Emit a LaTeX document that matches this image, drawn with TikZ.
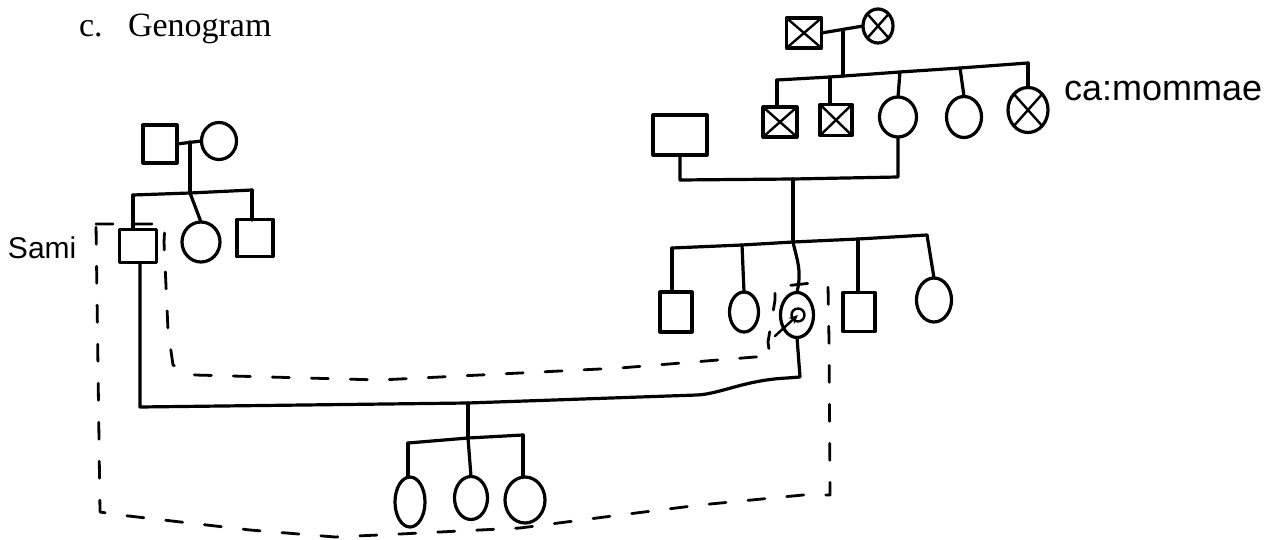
\documentclass[tikz,border=0pt]{standalone}
\usepackage{fontspec}
\setmainfont{Liberation Serif}
\newfontfamily\hand{Liberation Sans}
\usetikzlibrary{shapes.geometric,arrows.meta,calc}
\begin{document}
\begin{tikzpicture}[x=1pt,y=-1pt,line width=3.2pt,line join=round,line cap=round,
  every node/.style={inner sep=0pt,outer sep=0pt},
  male/.style={draw,rectangle},
  female/.style={draw,ellipse},
  dead/.style={path picture={\draw[line width=2.4pt]
     (path picture bounding box.south west) -- (path picture bounding box.north east)
     (path picture bounding box.north west) -- (path picture bounding box.south east);}},
  household/.style={line width=2.8pt,dash pattern=on 17pt off 22pt}]
\fill[white] (0,0) rectangle (1279,540);
\useasboundingbox (0,0) rectangle (1279,540);

% title
\node[anchor=base west,font=\fontsize{34}{36}\selectfont] (tc) at (79,37) {c.};
\node[anchor=base west,font=\fontsize{34}{36}\selectfont] (tg) at (128,37) {Genogram};

% ---------- left family ----------
\node[male,minimum width=34pt,minimum height=38pt] (lgf) at (160,144) {};
\node[female,minimum width=35pt,minimum height=37pt] (lgm) at (219,141) {};
\node[male,minimum width=37pt,minimum height=33pt] (sami) at (138,246) {};
\node[female,minimum width=38pt,minimum height=40pt] (lsis) at (201,242) {};
\node[male,minimum width=36pt,minimum height=37pt] (lbro) at (255,238) {};
\node[anchor=base west,font=\hand\fontsize{30}{32}\selectfont] (samil) at (8,258) {Sami};

\coordinate (lm) at (190,142);
\coordinate (lsl) at (133,195);
\coordinate (lsm) at (190,193);
\coordinate (lsr) at (252,190);
\draw (lgf.east) -- (lgm.west);
\draw (lm) -- (lsm);
\draw (lsl) -- (lsm) -- (lsr);
\draw (lsl) -- (lsl |- sami.north);
\draw (lsm) -- (lsis.north);
\draw (lsr) -- (252,220);

% ---------- right family, grandparents ----------
\node[male,dead,minimum width=35pt,minimum height=30pt] (rgf) at (804,33) {};
\node[female,dead,minimum width=30pt,minimum height=34pt] (rgm) at (878,26) {};
\coordinate (rm) at (843,30);
\coordinate (rs0) at (843,76);
\coordinate (rs1) at (777,80);
\coordinate (rs2) at (830,77);
\coordinate (rs3) at (900,72);
\coordinate (rs4) at (960,68);
\coordinate (rs5) at (1028,63);
\draw (rgf.east) -- (rgm.west);
\draw (rm) -- (rs0);
\draw (rs1) -- (rs2) -- (rs3) -- (rs4) -- (rs5);

\node[male,dead,minimum width=34pt,minimum height=30pt] (u1) at (780,122) {};
\node[male,dead,minimum width=32pt,minimum height=31pt] (u2) at (836,120) {};
\node[female,minimum width=37pt,minimum height=40pt] (mom) at (898,117) {};
\node[female,minimum width=35pt,minimum height=41pt] (a4) at (964,117) {};
\node[female,dead,minimum width=40pt,minimum height=45pt] (a5) at (1028,110) {};
\node[anchor=base west,font=\hand\fontsize{36}{38}\selectfont] (cam) at (1064,101) {ca:mommae};
\draw (rs1) -- (rs1 |- u1.north);
\draw (rs2) -- (rs2 |- u2.north);
\draw (rs3) -- (mom.north);
\draw (rs4) -- (a4.north);
\draw (rs5) -- (a5.north);

% father of proband
\node[male,minimum width=54pt,minimum height=40pt] (dad) at (680,135) {};
\coordinate (pm) at (793,179);
\draw (dad.south) -- (680,180) -- (pm) -- (898,177) -- (mom.south);

% ---------- proband generation ----------
\coordinate (ps0) at (793,242);
\coordinate (ps1) at (672,248);
\coordinate (ps2) at (742,245);
\coordinate (ps4) at (858,239);
\coordinate (ps5) at (927,235);
\draw (pm) -- (ps0);
\draw (ps1) -- (ps2) -- (ps0) -- (ps4) -- (ps5);

\node[male,minimum width=32pt,minimum height=40pt] (s1) at (676,312) {};
\node[female,minimum width=29pt,minimum height=40pt] (s2) at (744,312) {};
\node[female,minimum width=33pt,minimum height=45pt] (pro) at (797,315) {};
\node[female,minimum width=13pt,minimum height=13pt,line width=2.4pt] (proin) at (798,315) {};
\node[male,minimum width=32pt,minimum height=39pt] (s4) at (859,312) {};
\node[female,minimum width=35pt,minimum height=44pt] (s5) at (934,300) {};
\draw (ps1) -- (ps1 |- s1.north);
\draw (ps2) -- (s2.north);
\draw (ps0) .. controls (797,260) and (802,270) .. (pro.north);
\draw (ps4) -- (ps4 |- s4.north);
\draw (ps5) -- (s5.north);
\coordinate (arrtail) at (775,336);
\draw[-{Stealth[length=9pt,width=8pt]},line width=2.4pt] (arrtail) -- (proin.center);

% marriage Sami - proband
\coordinate (mr1) at (800,377);
\coordinate (mj) at (468,403);
\draw (pro.south) -- (mr1) -- (787,378) .. controls (745,380) and (720,394) .. (697,395)
      -- (mj) -- (140,407) -- (sami.south -| 140,0);

% ---------- children ----------
\coordinate (cs0) at (468,438);
\coordinate (cs1) at (408,443);
\coordinate (cs3) at (523,435);
\draw (mj) -- (cs0);
\draw (cs1) -- (cs0) -- (cs3);
\node[female,minimum width=30pt,minimum height=50pt] (g1) at (410,502) {};
\node[female,minimum width=33pt,minimum height=43pt] (g2) at (471,498) {};
\node[female,minimum width=40pt,minimum height=46pt] (g3) at (525,500) {};
\draw (cs1) -- (cs1 |- g1.north);
\draw (cs0) -- (g2.north);
\draw (cs3) -- (cs3 |- g3.north);

% ---------- household boundary ----------
\draw[household] (96,224) -- (165,224) -- (164,242) -- (168,330) -- (173,365)
  -- (195,375) -- (380,380) -- (620,368) -- (755,357) -- (770,357) -- (768,342)
  -- (775,300) -- (775,287) -- (812,283) -- (828,286) -- (829,340) -- (830,495)
  -- (803,495) -- (700,505) -- (620,515) -- (520,528) -- (400,534) -- (335,537)
  -- (250,530) -- (120,515) -- (100,512) -- cycle;
\end{tikzpicture}
\end{document}
